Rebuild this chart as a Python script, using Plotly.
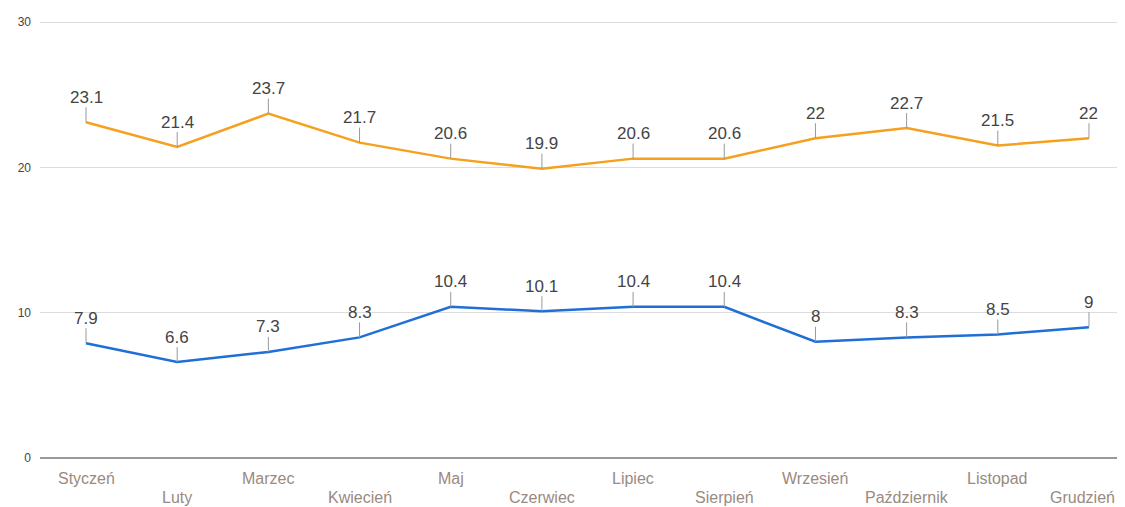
import plotly.graph_objects as go

months = ["Styczeń", "Luty", "Marzec", "Kwiecień", "Maj", "Czerwiec",
          "Lipiec", "Sierpień", "Wrzesień", "Październik", "Listopad", "Grudzień"]
high = [23.1, 21.4, 23.7, 21.7, 20.6, 19.9, 20.6, 20.6, 22, 22.7, 21.5, 22]
low = [7.9, 6.6, 7.3, 8.3, 10.4, 10.1, 10.4, 10.4, 8, 8.3, 8.5, 9]
y_ticks = [0, 10, 20, 30]

ORANGE = "#f5a01e"
BLUE = "#1f6fd6"

fig = go.Figure()
fig.add_trace(go.Scatter(x=months, y=high, mode="lines",
                         line=dict(color=ORANGE, width=2.5), hoverinfo="skip"))
fig.add_trace(go.Scatter(x=months, y=low, mode="lines",
                         line=dict(color=BLUE, width=2.5), hoverinfo="skip"))

ann = []
for series in (high, low):
    for m, v in zip(months, series):
        ann.append(dict(x=m, y=v, xref="x", yref="y", text=f"{v:g}",
                        showarrow=True, arrowhead=0, arrowwidth=1,
                        arrowcolor="#999999", ax=0, ay=-25,
                        font=dict(family="Liberation Sans, Arial", size=17, color="#444444"),
                        borderpad=0))
for i, m in enumerate(months):
    ann.append(dict(x=m, y=0, xref="x", yref="y", text=m, showarrow=False,
                    yanchor="middle", yshift=-20 if i % 2 == 0 else -39,
                    xshift=-6 if i == len(months) - 1 else 0,
                    font=dict(family="Liberation Sans, Arial", size=16, color="#9a8a80")))

fig.update_layout(
    width=1117, height=499,
    margin=dict(l=32, r=0, t=13, b=49),
    paper_bgcolor="white", plot_bgcolor="white",
    showlegend=False,
    annotations=ann,
    xaxis=dict(type="category", range=[-0.5045, 11.395], showticklabels=False,
               showgrid=False, zeroline=False, showline=False, ticks=""),
    yaxis=dict(range=[0, 30.07], tickvals=y_ticks, showgrid=True, gridcolor="#dcdcdc",
               gridwidth=1, zeroline=True, zerolinecolor="#999999", zerolinewidth=2,
               tickfont=dict(family="Liberation Sans, Arial", size=12, color="#444444"),
               ticks="", ticklabelstandoff=8, showline=False),
)

fig.write_html("out.html")
